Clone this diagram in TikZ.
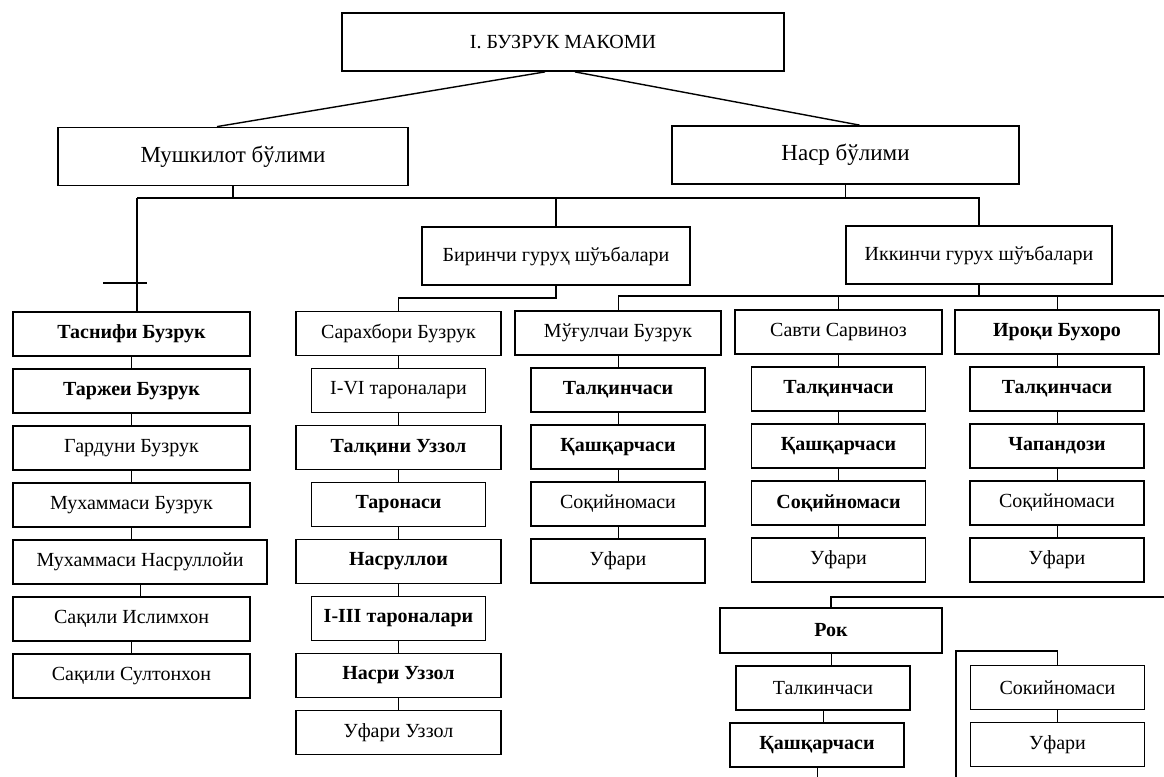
\documentclass[tikz,border=0pt]{standalone}
\usepackage{fontspec}
\setmainfont{Liberation Serif}
\usetikzlibrary{positioning}

\begin{document}
\begin{tikzpicture}[
          x=0.5pt,y=-0.5pt,
          node distance=5.6pt and 8pt,
          box/.style={draw,line width=0.9pt,minimum height=22pt,inner sep=1pt,font=\fontsize{10}{12}\selectfont},
          boxb/.style={box,font=\fontsize{10}{12}\selectfont\bfseries},
          head/.style={box,minimum height=29pt,font=\fontsize{11.5}{14}\selectfont},
          wide/.style={minimum width=102.5pt},
          narrow/.style={minimum width=87pt},
          link/.style={line width=0.7pt},
          tick/.style={line width=0.5pt}
        ]
        \useasboundingbox (0,0) rectangle (1164,777);
        % top levels
        \node[head,minimum width=221pt,font=\fontsize{10}{12}\selectfont] (maqom) at (563,42) {I. БУЗРУК МАКОМИ};
        \node[head,minimum width=175pt] (mush) at (233,156.5) {Мушкилот бўлими};
        \node[head,minimum width=173.5pt] (nasr) at (845.5,155) {Наср бўлими};
        \node[box,minimum width=134pt,minimum height=29pt] (biri) at (556,256) {Биринчи гуруҳ шўъбалари};
        \node[box,minimum width=133pt,minimum height=29pt] (ikki) at (979,255) {Иккинчи гурух шўъбалари};
        % mushkilot
        \node[boxb,minimum width=118.5pt] (tasnif) at (131.5,334) {Таснифи Бузрук};
        \node[boxb,minimum width=118.5pt,below=of tasnif] (tarje) {Таржеи Бузрук};
        \node[box,minimum width=118.5pt,below=of tarje] (gardun) {Гардуни Бузрук};
        \node[box,minimum width=118.5pt,below=of gardun] (mukhb) {Мухаммаси Бузрук};
        \node[box,minimum width=127pt,below=of mukhb,xshift=4.25pt] (mukhn) {Мухаммаси Насруллойи};
        \node[box,minimum width=118.5pt,below=of mukhn,xshift=-4.25pt] (islim) {Сақили Ислимхон};
        \node[box,minimum width=118.5pt,below=of islim] (sulton) {Сақили Султонхон};
        % birinchi guruh
        \node[box,wide] (sarakh) at (398.5,333.5) {Сарахбори Бузрук};
        \node[box,narrow,below=of sarakh] (tarI) {I-VI тароналари};
        \node[boxb,wide,below=of tarI] (talqin) {Талқини Уззол};
        \node[boxb,narrow,below=of talqin] (taron) {Таронаси};
        \node[boxb,wide,below=of taron] (nasrul) {Насруллои};
        \node[boxb,narrow,below=of nasrul] (tarII) {I-III тароналари};
        \node[boxb,wide,below=of tarII] (nasruz) {Насри Уззол};
        \node[box,wide,below=of nasruz] (ufaruz) {Уфари Уззол};
        % ikkinchi guruh
        \node[box,minimum width=103pt] (mugul) at (618,333) {Мўғулчаи Бузрук};
        \node[boxb,narrow,below=of mugul] (talk1) {Талқинчаси};
        \node[boxb,narrow,below=of talk1] (qash1) {Қашқарчаси};
        \node[box,narrow,below=of qash1] (soq1) {Соқийномаси};
        \node[box,narrow,below=of soq1] (ufar1) {Уфари};
        \node[box,minimum width=103.5pt] (savti) at (838.5,332) {Савти Сарвиноз};
        \node[boxb,narrow,below=of savti] (talk2) {Талқинчаси};
        \node[boxb,narrow,below=of talk2] (qash2) {Қашқарчаси};
        \node[boxb,narrow,below=of qash2] (soq2) {Соқийномаси};
        \node[box,narrow,below=of soq2] (ufar2) {Уфари};
        \node[boxb,minimum width=102pt] (iroqi) at (1057,332) {Ироқи Бухоро};
        \node[boxb,narrow,below=of iroqi] (talk4) {Талқинчаси};
        \node[boxb,narrow,below=of talk4] (chapan) {Чапандози};
        \node[box,narrow,below=of chapan] (soq4) {Соқийномаси};
        \node[box,narrow,below=of soq4] (ufar4) {Уфари};
        % rok
        \node[boxb,minimum width=111pt,minimum height=22.5pt] (rok) at (831,630.5) {Рок};
        \node[box,narrow,below=of rok,xshift=-4pt] (talk3) {Талкинчаси};
        \node[boxb,narrow,below=of talk3,xshift=-3pt] (qash3) {Қашқарчаси};
        \node[box,narrow] (soq3) at (1057.5,687.5) {Сокийномаси};
        \node[box,narrow,below=of soq3] (ufar3) {Уфари};
        % connectors
        \draw[link] ([xshift=-9pt]maqom.south) -- ([xshift=-8pt]mush.north);
        \draw[link] ([xshift=6pt]maqom.south) -- ([xshift=7pt]nasr.north);
        \coordinate (busL) at (137,198);
        \coordinate (bar) at (137,283);
        \draw[link] (busL) -- (busL -| ikki.north) -- (ikki.north);
        \draw[link] (mush.south) -- (mush.south |- busL);
        \draw[link] (nasr.south) -- (nasr.south |- busL);
        \draw[link] (biri.north) -- (biri.north |- busL);
        \draw[link] (busL) -- (busL |- tasnif.north);
        \draw[link] ([xshift=-17pt]bar) -- ([xshift=5pt]bar);
        \draw[link] (biri.south) -- ++(0,12) -| (sarakh.north);
        \coordinate (ikkiR) at (1164,296);
        \draw[link] (ikki.south) -- (ikki.south |- ikkiR);
        \draw[link] (mugul.north |- ikkiR) -- (ikkiR);
        \foreach \n in {mugul,savti,iroqi}
          \draw[tick] (\n.north |- ikkiR) -- (\n.north);
        \coordinate (rokR) at (1164,597);
        \draw[link] (rokR) -| (rok.north);
        \coordinate (soqB) at (956,777);
        \draw[link] (soqB) -- ++(0,-126) -| (soq3.north);
        \coordinate (qashB) at (817.5,777);
        \draw[tick] (qash3.south) -- (qash3.south |- qashB);
        \foreach \a/\b in {tasnif/tarje,tarje/gardun,gardun/mukhb,mukhb/mukhn,mukhn/islim,islim/sulton,
            sarakh/tarI,tarI/talqin,talqin/taron,taron/nasrul,nasrul/tarII,tarII/nasruz,nasruz/ufaruz,
            mugul/talk1,talk1/qash1,qash1/soq1,soq1/ufar1,savti/talk2,talk2/qash2,qash2/soq2,soq2/ufar2,
            iroqi/talk4,talk4/chapan,chapan/soq4,soq4/ufar4,rok/talk3,talk3/qash3,soq3/ufar3}
          \draw[tick] (\a.south) -- (\a.south |- \b.north);
      \end{tikzpicture}
\end{document}
